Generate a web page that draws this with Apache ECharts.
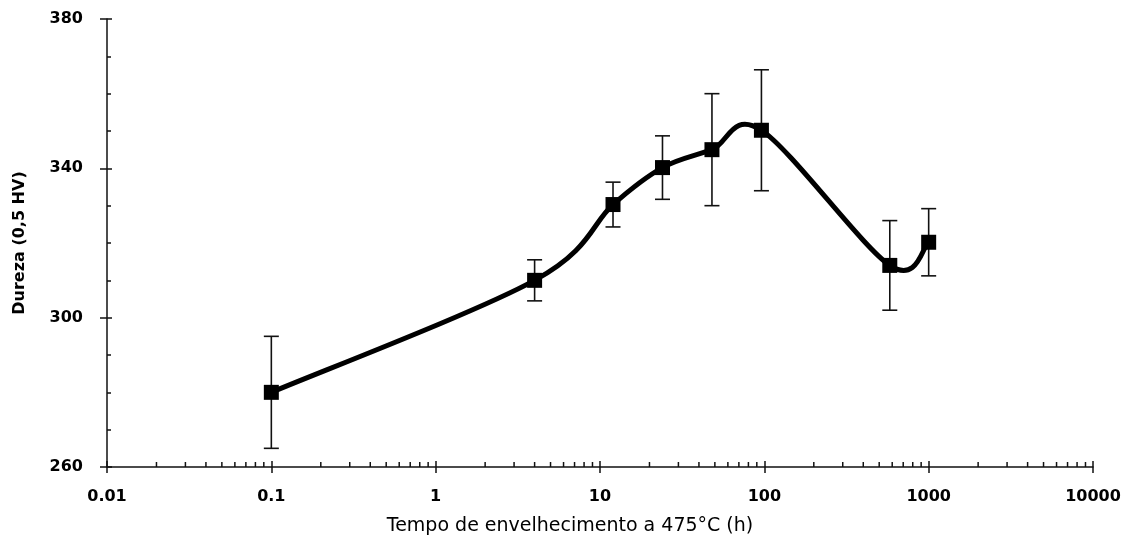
<!DOCTYPE html>
<html>
<head>
<meta charset="utf-8">
<script src="https://cdn.jsdelivr.net/npm/echarts@6/dist/echarts.min.js"></script>
<style>html,body{margin:0;padding:0;background:#fff}#c{width:1128px;height:547px}</style>
</head>
<body>
<div id="c"></div>
<script>
// Data
var agingTimeH = [0.1, 4, 12, 24, 48, 96, 580, 1000];
var hardnessHV = [280, 310, 330.3, 340.2, 345, 350.2, 314, 320.2];
var errorHV = [15, 5.5, 6, 8.5, 15, 16.2, 12, 9];
var xTickLabels = ['0.01', '0.1', '1', '10', '100', '1000', '10000'];
var decades = [0.01, 0.1, 1, 10, 100, 1000];
var minorMultipliers = [2, 3, 4, 5, 6, 7, 8, 9];

var minorTickValues = [];
decades.forEach(function (d) {
  minorMultipliers.forEach(function (m) { minorTickValues.push([d * m, 260]); });
});

var lineData = agingTimeH.map(function (t, i) { return [t, hardnessHV[i]]; });
var errData = agingTimeH.map(function (t, i) { return [t, hardnessHV[i] - errorHV[i], hardnessHV[i] + errorHV[i]]; });

var font = 'DejaVu Sans, Liberation Sans, Arial, sans-serif';
var chart = echarts.init(document.getElementById('c'), null, { renderer: 'canvas' });

var logAxisBase = {
  type: 'log', logBase: 10, min: 0.01, max: 10000, splitNumber: 6,
  splitLine: { show: false }, minorSplitLine: { show: false }
};
var valAxisBase = {
  type: 'value', min: 260, max: 380, interval: 40, position: 'left',
  splitLine: { show: false }, minorSplitLine: { show: false }
};

chart.setOption({
  animation: false,
  backgroundColor: '#fff',
  grid: { left: 107, right: 35, top: 19, bottom: 80, containLabel: false },
  xAxis: [
    Object.assign({}, logAxisBase, {
      name: 'Tempo de envelhecimento a 475°C (h)',
      nameLocation: 'middle', nameGap: 50,
      nameTextStyle: { fontFamily: font, fontSize: 19, color: '#000', padding: [0, 60, 0, 0] },
      axisLine: { show: true, lineStyle: { color: '#111', width: 1.5 } },
      axisTick: { show: true, inside: false, length: 6, lineStyle: { color: '#111', width: 1.5 } },
      axisLabel: {
        show: true, margin: 22, color: '#000', fontFamily: font, fontSize: 16, fontWeight: 'bold',
        formatter: function (v, i) { return xTickLabels[i]; }
      }
    }),
    Object.assign({}, logAxisBase, {
      position: 'bottom',
      axisLine: { show: false },
      axisTick: { show: true, inside: true, length: 6, lineStyle: { color: '#111', width: 1.5 } },
      axisLabel: { show: false }
    })
  ],
  yAxis: [
    Object.assign({}, valAxisBase, {
      name: 'Dureza (0,5 HV)',
      nameLocation: 'middle', nameGap: 79, nameRotate: 90,
      nameTextStyle: { fontFamily: font, fontSize: 16, fontWeight: 'bold', color: '#000' },
      axisLine: { show: true, lineStyle: { color: '#111', width: 1.5 } },
      axisTick: { show: true, inside: false, length: 7, lineStyle: { color: '#111', width: 1.5 } },
      axisLabel: { show: true, margin: 24, color: '#000', fontFamily: font, fontSize: 16, fontWeight: 'bold' }
    }),
    Object.assign({}, valAxisBase, {
      axisLine: { show: false },
      axisTick: { show: true, inside: true, length: 5, lineStyle: { color: '#111', width: 1.5 } },
      minorTick: { show: true, splitNumber: 4, length: 4, lineStyle: { color: '#111', width: 1.5 } },
      axisLabel: { show: false }
    })
  ],
  series: [
    {
      type: 'custom', xAxisIndex: 0, yAxisIndex: 0, silent: true, z: 1,
      data: minorTickValues,
      renderItem: function (params, api) {
        var p = api.coord([api.value(0), api.value(1)]);
        return { type: 'line', shape: { x1: p[0], y1: p[1], x2: p[0], y2: p[1] - 5 },
          style: { stroke: '#111', lineWidth: 1.5 } };
      }
    },
    {
      type: 'custom', xAxisIndex: 0, yAxisIndex: 0, silent: true, z: 2,
      data: errData,
      renderItem: function (params, api) {
        var lo = api.coord([api.value(0), api.value(1)]);
        var hi = api.coord([api.value(0), api.value(2)]);
        var w = 7.5;
        var st = { stroke: '#111', lineWidth: 1.6 };
        return { type: 'group', children: [
          { type: 'line', shape: { x1: lo[0], y1: lo[1], x2: hi[0], y2: hi[1] }, style: st },
          { type: 'line', shape: { x1: lo[0] - w, y1: lo[1], x2: lo[0] + w, y2: lo[1] }, style: st },
          { type: 'line', shape: { x1: hi[0] - w, y1: hi[1], x2: hi[0] + w, y2: hi[1] }, style: st }
        ] };
      }
    },
    {
      // smooth curve (Catmull-Rom style) through the data points, drawn via the axes' coordinates
      type: 'custom', xAxisIndex: 0, yAxisIndex: 0, silent: true, z: 3,
      data: lineData,
      renderItem: function (params, api) {
        var i = params.dataIndex;
        var n = lineData.length;
        if (i >= n - 1) return null;
        var P = function (k) {
          k = Math.max(0, Math.min(n - 1, k));
          return api.coord(lineData[k]);
        };
        var p0 = P(i - 1), p1 = P(i), p2 = P(i + 1), p3 = P(i + 2);
        var t = 1 / 6;
        return {
          type: 'bezierCurve',
          shape: {
            x1: p1[0], y1: p1[1], x2: p2[0], y2: p2[1],
            cpx1: p1[0] + (p2[0] - p0[0]) * t, cpy1: p1[1] + (p2[1] - p0[1]) * t,
            cpx2: p2[0] - (p3[0] - p1[0]) * t, cpy2: p2[1] - (p3[1] - p1[1]) * t
          },
          style: { stroke: '#000', lineWidth: 5, fill: null, lineCap: 'round' }
        };
      }
    },
    {
      type: 'line', xAxisIndex: 0, yAxisIndex: 0, z: 4,
      data: lineData,
      symbol: 'rect', symbolSize: 15,
      lineStyle: { width: 0, opacity: 0 },
      itemStyle: { color: '#000' }
    }
  ]
});
</script>
</body>
</html>
